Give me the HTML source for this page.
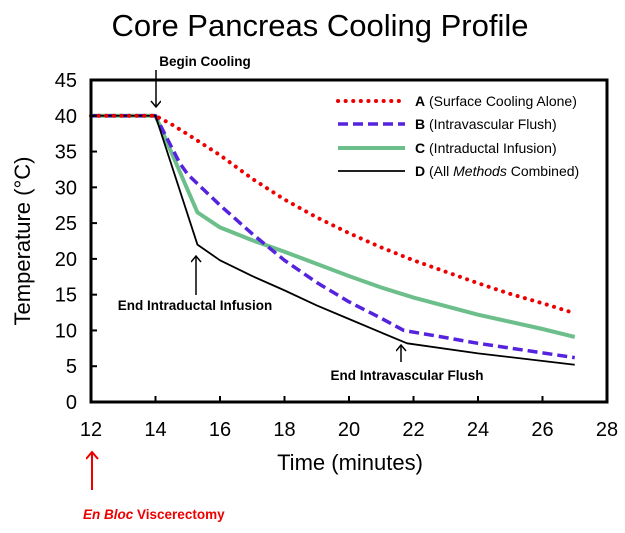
<!DOCTYPE html>
<html><head><meta charset="utf-8"><style>
body{margin:0;background:#fff;font-family:"Liberation Sans",Arial,sans-serif}
svg text{font-family:"Liberation Sans",Arial,sans-serif}
</style></head><body>
<svg id="chart" width="625" height="528">
<defs><marker id="ah" markerWidth="12" markerHeight="12" refX="10" refY="5" orient="auto" markerUnits="userSpaceOnUse"><path d="M4,0 L10,5 L4,10" fill="none" stroke="#000" stroke-width="1.5"/></marker>
<marker id="ahr" markerWidth="14" markerHeight="14" refX="11" refY="6" orient="auto" markerUnits="userSpaceOnUse"><path d="M4,0 L11,6 L4,12" fill="none" stroke="#e00" stroke-width="2"/></marker></defs>
<text x="320" y="36" font-size="31" text-anchor="middle">Core Pancreas Cooling Profile</text>
<g id="series"></g>
<rect x="91" y="80" width="516" height="322" fill="none" stroke="#000" stroke-width="3"/>
<g id="axes"></g>
<text x="30" y="241" font-size="22" text-anchor="middle" transform="rotate(-90 30 241)">Temperature (°C)</text>
<text x="350" y="470" font-size="22" text-anchor="middle">Time (minutes)</text>
<g font-size="14">
<line x1="338" y1="101" x2="405" y2="101" stroke="#e00" stroke-width="4" stroke-dasharray="0.1 7.5" stroke-linecap="round"/>
<text x="415" y="106"><tspan font-weight="bold">A</tspan> (Surface Cooling Alone)</text>
<line x1="338" y1="124" x2="405" y2="124" stroke="#5522dd" stroke-width="3.5" stroke-dasharray="10 5"/>
<text x="415" y="129"><tspan font-weight="bold">B</tspan> (Intravascular Flush)</text>
<line x1="338" y1="148" x2="405" y2="148" stroke="#6cbf8a" stroke-width="4"/>
<text x="415" y="153"><tspan font-weight="bold">C</tspan> (Intraductal Infusion)</text>
<line x1="338" y1="171" x2="405" y2="171" stroke="#000" stroke-width="1.8"/>
<text x="415" y="176"><tspan font-weight="bold">D</tspan> (All <tspan font-style="italic">Methods</tspan> Combined)</text>
</g>
<g font-size="13.5" font-weight="bold">
<text x="205" y="66" text-anchor="middle">Begin Cooling</text>
<line x1="156" y1="70" x2="156" y2="107" stroke="#000" stroke-width="1.5" marker-end="url(#ah)"/>
<text x="195" y="310" text-anchor="middle">End Intraductal Infusion</text>
<line x1="196" y1="295" x2="196" y2="256" stroke="#000" stroke-width="1.5" marker-end="url(#ah)"/>
<text x="407" y="380" text-anchor="middle">End Intravascular Flush</text>
<line x1="401" y1="362" x2="401" y2="345" stroke="#000" stroke-width="1.5" marker-end="url(#ah)"/>
</g>
<line x1="92" y1="490" x2="92" y2="452" stroke="#e00" stroke-width="2" marker-end="url(#ahr)"/>
<text x="83" y="519" font-size="13.5" font-weight="bold" fill="#e00"><tspan font-style="italic">En Bloc</tspan> Viscerectomy</text>
</svg>
<script>
const xTicks=[12,14,16,18,20,22,24,26,28];
const yTicks=[0,5,10,15,20,25,30,35,40,45];
const timesA=[12,14,14.5,15,16,17,18,19,20,21,22,23,24,25,26,27];
const tempsA=[40,40,38.8,37.4,34.5,31.2,28.3,25.8,23.6,21.6,19.8,18.2,16.6,15.1,13.8,12.4];
const timesB=[12,14,14.75,15,16,17,18,19,20,21,21.7,23,24,25.5,27];
const tempsB=[40,40,33.4,31.8,27.5,23.5,19.8,16.7,14,11.7,10,9,8.2,7.2,6.2];
const timesC=[12,14,15.3,16,17,18,19,20,21,22,24,26,27];
const tempsC=[40,40,26.5,24.4,22.6,21,19.3,17.6,16,14.6,12.2,10.2,9.1];
const timesD=[12,14,15.3,16,17,18,19,20,21,21.8,24,27];
const tempsD=[40,40,22,19.8,17.6,15.6,13.5,11.6,9.7,8.2,6.8,5.2];
const xs=t=>91+(t-12)*(516/16);
const ys=v=>402-v*(322/45);
const NS="http://www.w3.org/2000/svg";
const axes=document.getElementById('axes');
xTicks.forEach(t=>{
 const l=document.createElementNS(NS,'line');
 l.setAttribute('x1',xs(t));l.setAttribute('x2',xs(t));l.setAttribute('y1',402);l.setAttribute('y2',396);l.setAttribute('stroke','#000');l.setAttribute('stroke-width',2);
 
 
 axes.appendChild(l);
 const tx=document.createElementNS(NS,'text');
 tx.setAttribute('x',xs(t));tx.setAttribute('y',436);tx.setAttribute('font-size',20);tx.setAttribute('text-anchor','middle');tx.textContent=t;
 
 
 axes.appendChild(tx);
});
yTicks.forEach(v=>{
 const l=document.createElementNS(NS,'line');
 l.setAttribute('x1',91);l.setAttribute('x2',97);l.setAttribute('y1',ys(v));l.setAttribute('y2',ys(v));l.setAttribute('stroke','#000');l.setAttribute('stroke-width',2);
 
 
 axes.appendChild(l);
 const tx=document.createElementNS(NS,'text');
 tx.setAttribute('x',77);tx.setAttribute('y',ys(v)+7);tx.setAttribute('font-size',20);tx.setAttribute('text-anchor','end');tx.textContent=v;
 
 
 axes.appendChild(tx);
});
const g=document.getElementById('series');
function draw(ts,vs,stroke,w,dash,name){
 const p=document.createElementNS(NS,'polyline');
 p.setAttribute('points',ts.map((t,i)=>xs(t)+','+ys(vs[i])).join(' '));
 p.setAttribute('fill','none');p.setAttribute('stroke',stroke);p.setAttribute('stroke-width',w);
 p.setAttribute('stroke-linejoin','round');
 if(dash){p.setAttribute('stroke-dasharray',dash);}
 if(name==='series-a'){p.setAttribute('stroke-linecap','round');}
 
 
 g.appendChild(p);
}
draw(timesC,tempsC,'#6cbf8a',4,null,'series-c');
draw(timesB,tempsB,'#5522dd',3.5,'10 5','series-b');
draw(timesD,tempsD,'#000',1.8,null,'series-d');
draw(timesA,tempsA,'#e00',4,'0.1 7.5','series-a');
</script>
</body></html>
